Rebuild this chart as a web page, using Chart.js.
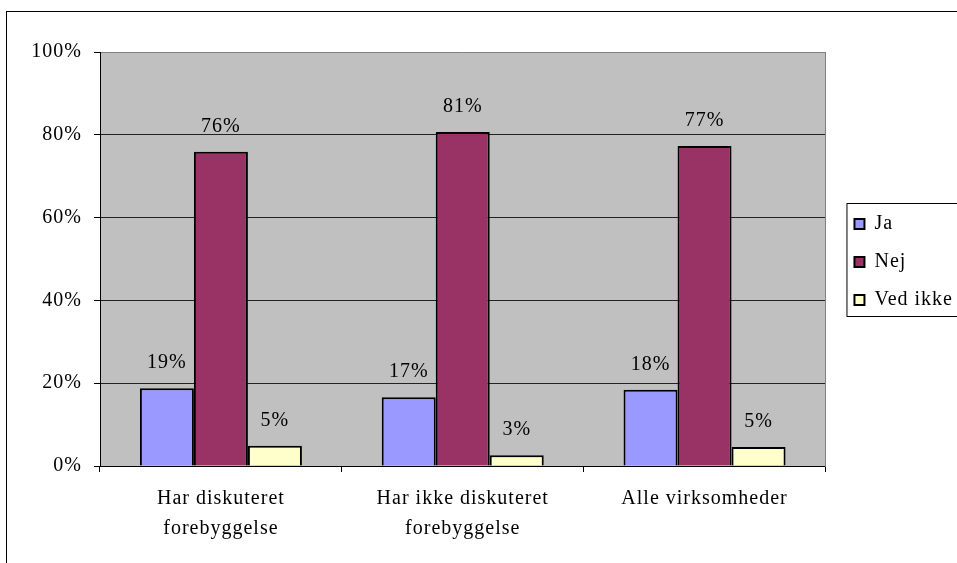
<!DOCTYPE html>
<html>
<head>
<meta charset="utf-8">
<script src="https://cdn.jsdelivr.net/npm/chart.js@4/dist/chart.umd.min.js"></script>
<style>
  html, body { margin: 0; padding: 0; background: #fff; overflow: hidden; }
  #ramme { position: absolute; left: 6px; top: 11px; width: 1000px; height: 600px; border: 1px solid #000; }
  #graf { position: absolute; left: 0; top: 0; }
</style>
</head>
<body>
<div id="ramme"></div>
<canvas id="graf" width="957" height="563"></canvas>
<script>
const kategorier = [
  ["Har diskuteret", "forebyggelse"],
  ["Har ikke diskuteret", "forebyggelse"],
  "Alle virksomheder"
];
const ja = [18.8, 16.6, 18.4];
const nej = [75.9, 80.7, 77.3];
const vedIkke = [4.9, 2.6, 4.6];
const yTicks = [0, 20, 40, 60, 80, 100];

Chart.defaults.font.family = "'Liberation Serif', 'Times New Roman', serif";
Chart.defaults.font.size = 20;
Chart.defaults.color = "#000";

// lidt ekstra luft mellem bogstaverne, som i originalen
const spacing = {
  id: "spacing",
  beforeUpdate(chart) { chart.ctx.letterSpacing = "1px"; },
  beforeRender(chart) { chart.ctx.letterSpacing = "1px"; }
};

// grå baggrund i plotområdet
const baggrund = {
  id: "baggrund",
  beforeDraw(chart) {
    const { ctx, chartArea: a } = chart;
    ctx.save();
    ctx.fillStyle = "#C0C0C0";
    ctx.fillRect(a.left, a.top, a.right - a.left, a.bottom - a.top);
    ctx.restore();
  }
};

// procent-tal over søjlerne
const etiketter = {
  id: "etiketter",
  afterDatasetsDraw(chart) {
    const ctx = chart.ctx;
    ctx.save();
    ctx.font = "20px 'Liberation Serif'";
    ctx.fillStyle = "#000";
    ctx.textAlign = "center";
    ctx.textBaseline = "alphabetic";
    chart.data.datasets.forEach((ds, i) => {
      chart.getDatasetMeta(i).data.forEach((bar, j) => {
        ctx.fillText(Math.round(ds.data[j]) + "%", bar.x, bar.y - 20);
      });
    });
    ctx.restore();
  }
};

// ramme om signaturforklaringen
const legendRamme = {
  id: "legendRamme",
  afterDraw(chart) {
    const boxes = chart.legend.legendHitBoxes;
    if (!boxes.length) return;
    const first = boxes[0], last = boxes[boxes.length - 1];
    const ctx = chart.ctx;
    ctx.save();
    ctx.strokeStyle = "#000";
    ctx.lineWidth = 1;
    ctx.strokeRect(first.left - 7.5, first.top - 10.5, 200, last.top + last.height - first.top + 17);
    ctx.restore();
  }
};

new Chart(document.getElementById("graf"), {
  type: "bar",
  data: {
    labels: kategorier,
    datasets: [
      { label: "Ja", data: ja, backgroundColor: "#9999FF" },
      { label: "Nej", data: nej, backgroundColor: "#993366" },
      { label: "Ved ikke", data: vedIkke, backgroundColor: "#FFFFCC" }
    ].map(d => ({ ...d, borderColor: "#000", borderWidth: 2, categoryPercentage: 0.67, barPercentage: 1 }))
  },
  options: {
    responsive: false,
    animation: false,
    events: [],
    layout: { padding: { top: 52, left: 0, right: -6, bottom: 0 } },
    plugins: {
      legend: {
        position: "right",
        fullSize: false,
        title: { display: true, text: " ", font: { size: 5, lineHeight: 1.2 }, padding: 0 },
        labels: { boxWidth: 10, boxHeight: 10, padding: 18, font: { size: 20 } }
      },
      tooltip: { enabled: false }
    },
    scales: {
      x: {
        offset: true,
        grid: { offset: true, drawOnChartArea: false, tickLength: 6, color: "#000" },
        border: { color: "#000", width: 1 },
        ticks: { padding: 12, font: { size: 20, lineHeight: 1.5 }, maxRotation: 0 },
        afterFit(s) { s.height = 97; }
      },
      y: {
        min: 0, max: 100,
        afterBuildTicks(s) { s.ticks = yTicks.map(v => ({ value: v })); },
        ticks: { padding: 12, callback: v => v + "%" },
        grid: {
          tickLength: 6,
          color: c => c.tick.value === 100 ? "#808080" : "#222",
          tickColor: "#000"
        },
        border: { color: "#000", width: 1 },
        afterFit(s) { s.width = 100; }
      },
      kant: {
        type: "linear", position: "right", min: 0, max: 100,
        ticks: { display: false },
        grid: { drawOnChartArea: false, drawTicks: false },
        border: { color: "#808080", width: 1 },
        afterFit(s) { s.width = 11; }
      }
    }
  },
  plugins: [spacing, baggrund, etiketter, legendRamme]
});
</script>
</body>
</html>
